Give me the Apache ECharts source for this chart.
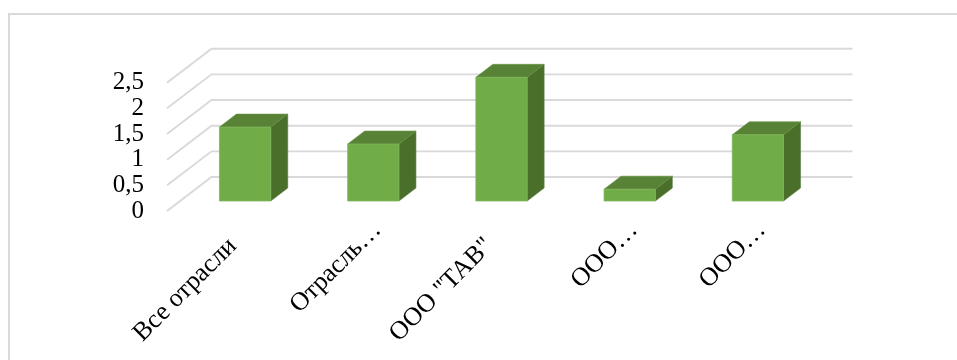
<!DOCTYPE html>
<html><head><meta charset="utf-8">
<style>html,body{margin:0;padding:0;background:#fff}#c{width:957px;height:360px}</style>
<script src="https://cdn.jsdelivr.net/npm/echarts@6/dist/echarts.min.js"></script>
</head><body><div id="c"></div>
<script>
const categories = ['Все отрасли', 'Отрасль…', 'ООО "ТАВ"', 'ООО…', 'ООО…'];
const values = [1.44, 1.11, 2.41, 0.23, 1.29];
const ticks = [0, 0.5, 1, 1.5, 2, 2.5];

const wall = { start: -18, dx: 44.5, dy: 34 };
const floorShift = { dx: -4, dy: 10 };
const barDepth = { dx: 17, dy: 13 };
const barRatio = 0.4;

const chart = echarts.init(document.getElementById('c'), null, { renderer: 'canvas' });
chart.setOption({
  animation: false,
  backgroundColor: '#ffffff',
  grid: { left: 185, top: 82.7, width: 641, height: 128.3, containLabel: false },
  xAxis: {
    type: 'category', data: categories,
    axisLine: { show: false }, axisTick: { show: false }, splitLine: { show: false },
    axisLabel: { interval: 0, rotate: 45, margin: 15, color: '#000', hideOverlap: false,
      fontFamily: '"Liberation Serif"', fontSize: 26,
      formatter: v => v.endsWith('…') ? '{cut|' + v + '}' : '{full|' + v + '}',
      rich: { cut: {}, full: { padding: [0, 23, 0, 0] } } }
  },
  yAxis: {
    type: 'value', min: 0, max: 2.5, interval: 0.5,
    axisLine: { show: false }, axisTick: { show: false }, splitLine: { show: false },
    axisLabel: { margin: 41, color: '#000', fontFamily: '"Liberation Serif"', fontSize: 25,
      hideOverlap: false, showMinLabel: true, showMaxLabel: true,
      formatter: v => String(v).replace('.', ',') }
  },
  graphic: [
    { type: 'polyline', silent: true, shape: { points: [[9, 360], [9, 14], [957, 14]] },
      style: { stroke: '#d9d9d9', lineWidth: 2, fill: null } }
  ],
  series: [
    {
      type: 'custom', coordinateSystem: 'cartesian2d', silent: true, z: 1,
      data: ticks.map(t => [0, t]),
      renderItem(params, api) {
        const p = api.coord([0, api.value(1)]);
        const s = api.size([1, 0]);
        const x0 = p[0] - s[0] / 2 + wall.start;
        const y = p[1];
        return { type: 'polyline',
          shape: { points: [[x0, y], [x0 + wall.dx, y - wall.dy], [x0 + wall.dx + s[0] * categories.length, y - wall.dy]] },
          style: { stroke: '#d9d9d9', lineWidth: 1.9, fill: null } };
      }
    },
    {
      type: 'custom', coordinateSystem: 'cartesian2d', silent: true, z: 2,
      data: values.map((v, i) => [i, v]),
      encode: { x: 0, y: 1 },
      renderItem(params, api) {
        const top = api.coord([api.value(0), api.value(1)]);
        const base = api.coord([api.value(0), 0]);
        const w = api.size([1, 0])[0] * barRatio;
        const l = top[0] - w / 2 + floorShift.dx, r = l + w;
        const t = top[1] - floorShift.dy, b = base[1] - floorShift.dy;
        const dx = barDepth.dx, dy = barDepth.dy;
        const edge = '#7fb55f';
        return { type: 'group', children: [
          { type: 'polygon', shape: { points: [[r, b], [r + dx, b - dy], [r + dx, t - dy], [r, t]] },
            style: { fill: '#4a6f2b', stroke: '#55803a', lineWidth: 0.6 } },
          { type: 'polygon', shape: { points: [[l, t], [r, t], [r + dx, t - dy], [l + dx, t - dy]] },
            style: { fill: '#588235', stroke: '#649140', lineWidth: 0.6 } },
          { type: 'rect', shape: { x: l, y: t, width: w, height: b - t },
            style: { fill: '#70ad47', stroke: edge, lineWidth: 0.8 } }
        ] };
      }
    }
  ]
});
</script></body></html>
